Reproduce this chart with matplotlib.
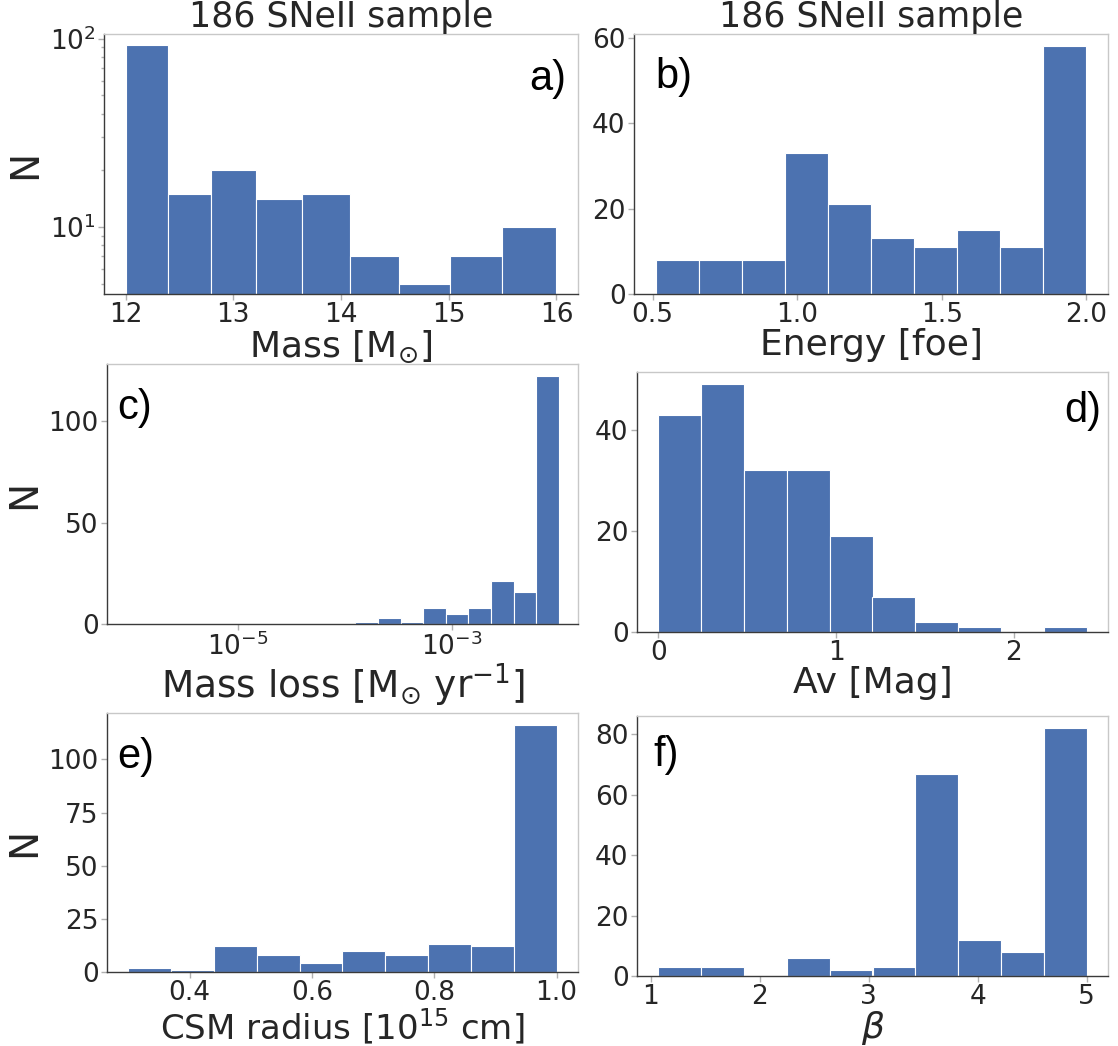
import numpy as np
import matplotlib
matplotlib.use("Agg")
import matplotlib.pyplot as plt
from matplotlib.ticker import NullLocator

# histogram counts per bin (186 SNe II)
mass_counts = [93, 15, 20, 14, 15, 7, 5, 7, 10]
energy_counts = [8, 8, 8, 33, 21, 13, 11, 15, 11, 58]
mdot_counts = [1, 3, 1, 8, 5, 8, 21, 16, 122]
av_counts = [43, 49, 32, 32, 19, 7, 2, 1, 0, 1]
rcsm_counts = [2, 1, 12, 8, 4, 10, 8, 13, 12, 116]
beta_counts = [3, 3, 0, 6, 2, 3, 67, 12, 8, 82]

# bin edges
mass_edges = np.logspace(np.log10(12), np.log10(16), 10)
energy_edges = np.linspace(0.51, 2.0, 11)
mdot_edges = np.logspace(-3.9, -2.0, 10)
av_edges = np.linspace(0.0, 2.41, 11)
rcsm_edges = np.linspace(0.3, 1.0, 11)
beta_edges = np.linspace(1.07, 5.0, 11)

title = "186 SNeII sample"
text_col = "#262626"
bar_col = "#4C72B0"

plt.rcParams["font.family"] = ["DejaVu Sans"]
plt.rcParams["text.color"] = text_col
plt.rcParams["axes.labelcolor"] = text_col
plt.rcParams["xtick.color"] = text_col
plt.rcParams["ytick.color"] = text_col

W, H = 1118, 1046
fig = plt.figure(figsize=(W / 100, H / 100), dpi=100)

TICK_FS = 19
XLAB_FS = 26
YLAB_FS = 28
TITLE_FS = 25
MSUN = r"$\mathrm{M}_{\!\odot}\!$"


def make_ax(x0, y0, x1, y1):
    # pixel box -> figure fraction
    return fig.add_axes([x0 / W, 1 - y1 / H, (x1 - x0) / W, (y1 - y0) / H])


def style(ax):
    for s in ["top", "right"]:
        ax.spines[s].set_color("#c8c8c8")
    for s in ["left", "bottom"]:
        ax.spines[s].set_color("#3a3a3a")
    for s in ax.spines.values():
        s.set_linewidth(1.0)
    ax.tick_params(which="both", labelsize=TICK_FS, color="#b0b0b0", width=1.0, pad=2)
    ax.tick_params(which="major", length=4)
    ax.tick_params(which="minor", length=2.5)


def draw(ax, edges, counts, log=False):
    centers = 0.5 * (edges[:-1] + edges[1:])
    ax.hist(centers, bins=edges, weights=counts, color=bar_col,
            edgecolor="white", linewidth=0.8, log=log)


def letter(ax, s, x, y, ha="left"):
    ax.text(x, y, s, transform=ax.transAxes, ha=ha, va="center",
            fontsize=30, family="Liberation Sans", color="black")


# a) progenitor mass
ax = make_ax(104, 34, 578, 294)
draw(ax, mass_edges, mass_counts, log=True)
ax.set_ylim(4.4, 106)
ax.set_xticks([12, 13, 14, 15, 16])
ax.set_xlabel("Mass [" + MSUN + "]", fontsize=XLAB_FS, labelpad=0)
ax.set_ylabel("N", fontsize=YLAB_FS)
ax.set_title(title, fontsize=TITLE_FS, pad=-3)
style(ax)
letter(ax, "a)", 0.975, 0.827, ha="right")

# b) explosion energy
ax = make_ax(634, 34, 1108, 294)
draw(ax, energy_edges, energy_counts)
ax.set_xticks([0.5, 1.0, 1.5, 2.0])
ax.set_yticks([0, 20, 40, 60])
ax.set_xlabel("Energy [foe]", fontsize=XLAB_FS, labelpad=0)
ax.set_title(title, fontsize=TITLE_FS, pad=-3)
style(ax)
letter(ax, "b)", 0.045, 0.833)

# c) mass-loss rate
ax = make_ax(107, 364, 578, 624)
draw(ax, mdot_edges, mdot_counts)
ax.set_xscale("log")
ax.set_xlim(10 ** -6.22, 10 ** -1.82)
ax.set_xticks([1e-5, 1e-3])
ax.xaxis.set_minor_locator(NullLocator())
ax.set_yticks([0, 50, 100])
ax.set_xlabel("Mass loss [" + MSUN + r" yr$^{-1}$]", fontsize=27, labelpad=0)
ax.set_ylabel("N", fontsize=YLAB_FS)
style(ax)
letter(ax, "c)", 0.021, 0.83)

# d) extinction
ax = make_ax(637, 372, 1108, 632)
draw(ax, av_edges, av_counts)
ax.set_xticks([0, 1, 2])
ax.set_yticks([0, 20, 40])
ax.set_xlabel("Av [Mag]", fontsize=XLAB_FS, labelpad=0)
style(ax)
letter(ax, "d)", 0.985, 0.85, ha="right")

# e) CSM radius
ax = make_ax(107, 713, 578, 972)
draw(ax, rcsm_edges, rcsm_counts)
ax.set_xticks([0.4, 0.6, 0.8, 1.0])
ax.set_yticks([0, 25, 50, 75, 100])
ax.set_xlabel(r"CSM radius [10$^{15}$ cm]", fontsize=24.5, labelpad=0)
ax.set_ylabel("N", fontsize=YLAB_FS)
style(ax)
letter(ax, "e)", 0.021, 0.83)

# f) wind acceleration
ax = make_ax(637, 716, 1108, 976)
draw(ax, beta_edges, beta_counts)
ax.set_xticks([1, 2, 3, 4, 5])
ax.set_yticks([0, 20, 40, 60, 80])
ax.set_xlabel(r"$\beta$", fontsize=XLAB_FS, labelpad=-1)
style(ax)
letter(ax, "f)", 0.035, 0.85)

fig.savefig("out.png", dpi=100)
